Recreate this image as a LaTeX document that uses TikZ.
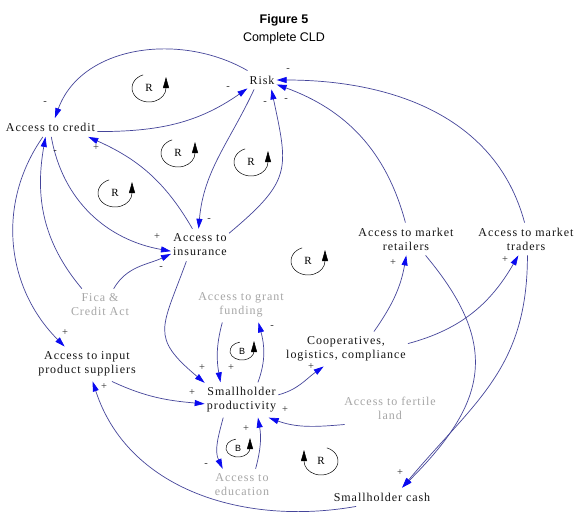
\documentclass[tikz,border=0pt]{standalone}
\usepackage{fontspec}
\setmainfont{Liberation Serif}[LetterSpace=8]
\newfontfamily\titlefont{Liberation Sans}
\usetikzlibrary{arrows.meta}
\definecolor{linkblue}{HTML}{45459A}
\definecolor{tipblue}{HTML}{0A0AF0}
\definecolor{dkgray}{HTML}{141414}
\definecolor{ltgray}{HTML}{A6A6A6}
\definecolor{signgray}{HTML}{2A2A2A}

\begin{document}
\begin{tikzpicture}[x=1pt, y=1pt,
  var/.style={font=\fontsize{12}{14}\selectfont, text=dkgray, align=center, inner xsep=2pt, inner ysep=5pt},
  exo/.style={var, text=ltgray},
  link/.style={draw=linkblue, line width=0.7pt, -{Triangle[length=10pt, width=6pt, color=tipblue]}},
  polarity/.style={font=\fontsize{10.5}{10.5}\selectfont, text=signgray, inner sep=0pt},
  loopline/.style={draw=black, line width=0.5pt, -{Triangle[length=11pt, width=6pt]}},
  rtag/.style={font=\fontsize{11}{11}\selectfont, inner sep=0pt},
  btag/.style={font=\titlefont\fontsize{9}{9}\selectfont, inner sep=0pt}]

% Background
\fill[white] (0,0) rectangle (580,-528);
\useasboundingbox (0,0) rectangle (580,-528);

% Title
\node[font=\titlefont\bfseries\fontsize{12.5}{14}\selectfont] (title) at (284,-20) {Figure 5};
\node[font=\titlefont\fontsize{12.5}{14}\selectfont] (subtitle) at (284,-38) {Complete CLD};

% --- Variables ---
\node[var] (risk) at (262,-80) {Risk};
\node[var] (credit) at (50.5,-127.5) {Access to credit};
\node[var] (insurance) at (200,-245) {Access to\\insurance};
\node[exo] (fica) at (100,-305) {Fica \&\\Credit Act};
\node[exo] (grant) at (241,-305) {Access to grant\\funding};
\node[var] (suppliers) at (87,-364) {Access to input\\product suppliers};
\node[var] (coop) at (346,-349) {Cooperatives,\\logistics, compliance};
\node[var] (retailers) at (406,-239) {Access to market\\retailers};
\node[var] (traders) at (526,-239) {Access to market\\traders};
\node[var] (productivity) at (241.5,-400) {Smallholder\\productivity};
\node[exo] (land) at (390,-408) {Access to fertile\\land};
\node[exo] (education) at (242,-485) {Access to\\education};
\node[var] (cash) at (382,-497) {Smallholder cash};

% --- Links: risk and credit ---
\draw[link] (risk.147) to[out=150, in=70] (credit.65);
\draw[link] (credit.-5) to[out=0, in=215] (risk.-150);
\draw[link] (insurance.115) to[out=120, in=-24] (credit.-14);
\draw[link] (credit.-85) to[out=-80, in=170] (insurance.192);
\draw[link] (credit.-129) to[out=-125, in=135] (suppliers.142);
\draw[link] (fica.138) to[out=130, in=-100] (credit.-118);
\draw[link] (fica.50) to[out=60, in=205] (insurance.197);

% --- Links: risk and insurance ---
\draw[link] (risk.-130) to[out=-115, in=85] (insurance.95);
\draw[link] (insurance.22) to[out=40, in=-78, looseness=1.4] (risk.-45);

% --- Links: markets and risk ---
\draw[link] (retailers.92) to[out=105, in=-20] (risk.-17);
\draw[link] (traders.95) to[out=105, in=0] (risk.0);

% --- Links: productivity ---
\draw[link] (insurance.-130) to[out=-110, in=140, looseness=1.5] (productivity.155);
\draw[link] (grant.-137) to[out=-105, in=100] (productivity.140);
\draw[link] (productivity.47) to[out=70, in=-75] (grant.-45);
\draw[link] (productivity.8) to[out=15, in=215] (coop.-142);
\draw[link] (coop.32) to[out=55, in=-100] (retailers.-89);
\draw[link] (coop.5) to[out=15, in=240] (traders.-115);

% --- Links: smallholder cash ---
\draw[link] (retailers.-40) to[out=-50, in=45, looseness=1.3] (cash.25);
\draw[link] (traders.-85) to[out=-90, in=50, looseness=1.1] (cash.25);
\draw[link] (cash.-160) to[out=-170, in=-72] (suppliers.-72);
\draw[link] (suppliers.-35) to[out=-25, in=175] (productivity.186);
\draw[link] (land.-160) to[out=-175, in=-20] (productivity.-33);

% --- Links: education ---
\draw[link] (productivity.-136) to[out=-105, in=115] (education.140);
\draw[link] (education.50) to[out=75, in=-80] (productivity.-47);

% Polarity signs
\foreach \px/\py/\pol [count=\i] in {45/-103/-, 228/-88/-, 265/-103/-, 286/-100/-, 288/-70/-,
    55/-152/-, 209/-220/-, 161/-268/-, 272/-327/-, 206/-465/-,
    96/-148/+, 157/-237/+, 65/-333/+, 202/-368/+, 231/-368/+, 192/-393/+,
    104/-387/+, 285/-410/+, 311/-367/+, 393/-263/+, 505/-260/+, 400/-473/+, 246/-429/+}
  \node[polarity] (pol\i) at (\px,\py) {\pol};

% Loop markers
\node[rtag] (loopr1) at (149,-88) {R};
\draw[loopline] ([shift={(110:17 and 14)}]loopr1.center) arc[start angle=110, end angle=360, x radius=17, y radius=14] -- ++(0,11);
\node[rtag] (loopr2) at (178,-153) {R};
\draw[loopline] ([shift={(110:17 and 14)}]loopr2.center) arc[start angle=110, end angle=360, x radius=17, y radius=14] -- ++(0,11);
\node[rtag] (loopr3) at (251,-162) {R};
\draw[loopline] ([shift={(110:17 and 14)}]loopr3.center) arc[start angle=110, end angle=360, x radius=17, y radius=14] -- ++(0,11);
\node[rtag] (loopr4) at (115,-193) {R};
\draw[loopline] ([shift={(110:17 and 14)}]loopr4.center) arc[start angle=110, end angle=360, x radius=17, y radius=14] -- ++(0,11);
\node[rtag] (loopr5) at (308,-261) {R};
\draw[loopline] ([shift={(110:17 and 14)}]loopr5.center) arc[start angle=110, end angle=360, x radius=17, y radius=14] -- ++(0,11);
\node[rtag] (loopr6) at (321,-461) {R};
\draw[loopline] ([shift={(70:17 and 14)}]loopr6.center) arc[start angle=70, end angle=-180, x radius=17, y radius=14] -- ++(0,11);
\node[btag] (loopb1) at (242,-351) {B};
\draw[loopline] ([shift={(100:12 and 9)}]loopb1.center) arc[start angle=100, end angle=360, x radius=12, y radius=9] -- ++(0,10);
\node[btag] (loopb2) at (238,-448) {B};
\draw[loopline] ([shift={(100:12 and 9)}]loopb2.center) arc[start angle=100, end angle=360, x radius=12, y radius=9] -- ++(0,10);

\end{tikzpicture}
\end{document}
